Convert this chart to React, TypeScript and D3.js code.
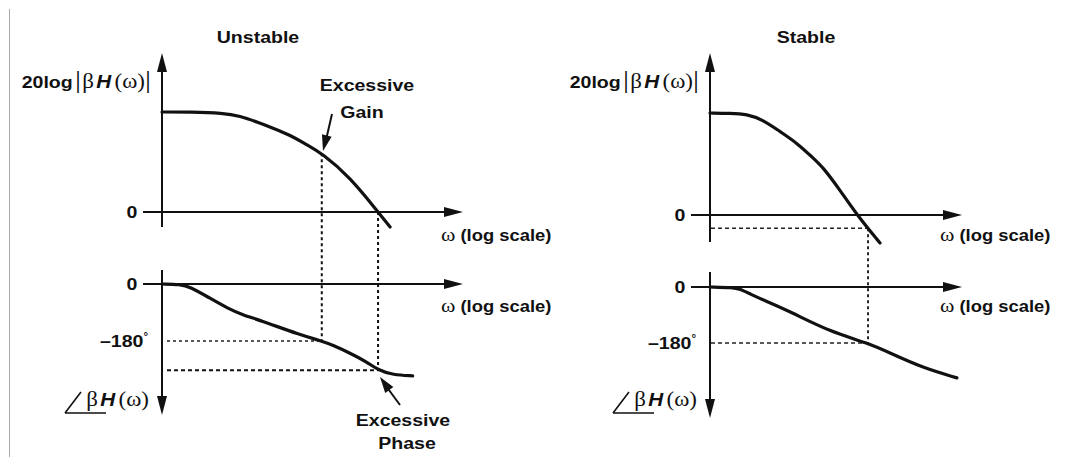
import * as d3 from "d3";

// ---- data (omega in rad/s, gain in dB, phase in degrees) ----
const unstableGainOmega = [1, 2.4, 6.5, 11, 18.5, 30, 51, 86, 135, 320, 760, 1100];
const unstableGainDb = [40, 40, 39.6, 38.4, 36, 33.6, 30.8, 26.8, 23.5, 14, 0, -6];
const unstablePhaseOmega = [1, 1.74, 2.36, 4.37, 7.4, 12, 20, 70, 135, 190, 320, 540, 760, 1200, 2200];
const unstablePhaseDeg = [0, -1, -8.5, -45, -76, -98, -114, -161, -180, -193, -218, -246, -272, -287, -290];

const stableGainOmega = [1, 1.85, 3.1, 5.1, 8.6, 14.5, 23.6, 32, 54, 91, 185];
const stableGainDb = [40, 39.9, 39.6, 37.3, 32.7, 28.2, 22.4, 18.8, 9.8, 0, -11];
const stablePhaseOmega = [1, 2.03, 2.5, 3.4, 5.75, 11.7, 40, 128, 250, 690, 1960];
const stablePhaseDeg = [0, -1.6, -6.4, -22, -47, -79, -144, -180, -212, -260, -292];

// crossover markers
const unstablePhaseCross = 135; // phase = -180
const unstableGainCross = 760; // gain = 0 dB
const unstablePhaseAtGainCross = -272;
const stablePhaseCross = 128;
const stableGainAtPhaseCross = -5.2;

const FONT = "'Liberation Sans', Arial, Helvetica, sans-serif";
const SERIF = "'Liberation Serif', 'Times New Roman', serif";
const SX = 1.15;

function head(x1: number, y1: number, x2: number, y2: number, len = 18, half = 5) {
  const a = Math.atan2(y2 - y1, x2 - x1);
  const bx = x2 - len * Math.cos(a);
  const by = y2 - len * Math.sin(a);
  const px = -Math.sin(a) * half;
  const py = Math.cos(a) * half;
  return `${x2},${y2} ${bx + px},${by + py} ${bx - px},${by - py}`;
}

const Txt = ({ x, y, anchor = "middle", size = 17, children }: any) => (
  <g transform={`translate(${x},${y}) scale(${SX},1)`}>
    <text
      y={size * 0.36}
      textAnchor={anchor}
      fontFamily={FONT}
      fontWeight="bold"
      fontSize={size}
      fill="#111"
    >
      {children}
    </text>
  </g>
);

const MagLabel = ({ x, y }: any) => (
  <Txt x={x} y={y} anchor="end" size={17}>
    20log
    <tspan fontFamily={SERIF} fontWeight="normal" fontSize={26} dx={2}>|</tspan>
    <tspan fontFamily={SERIF} fontWeight="normal" fontSize={20} dx={1}>β</tspan>
    <tspan fontStyle="italic" fontSize={18} dx={2}>H</tspan>
    <tspan fontFamily={SERIF} fontWeight="normal" fontSize={20} dx={3}>(ω)</tspan>
    <tspan fontFamily={SERIF} fontWeight="normal" fontSize={26}>|</tspan>
  </Txt>
);

const OmegaLabel = ({ x, y }: any) => (
  <Txt x={x} y={y} anchor="start" size={16}>
    <tspan fontFamily={SERIF} fontWeight="normal" fontSize={19}>ω</tspan> (log scale)
  </Txt>
);

const PhaseLabel = ({ ox, y }: any) => (
  <g>
    <path
      d={`M${ox - 97},${y + 13} L${ox - 81},${y - 8} M${ox - 97},${y + 13} L${ox - 56},${y + 13}`}
      stroke="#111"
      strokeWidth={1.6}
      fill="none"
    />
    <Txt x={ox - 13} y={y} anchor="end" size={17}>
      <tspan fontFamily={SERIF} fontWeight="normal" fontSize={20}>β</tspan>
      <tspan fontStyle="italic" fontSize={18} dx={2}>H</tspan>
      <tspan fontFamily={SERIF} fontWeight="normal" fontSize={20} dx={3}>(ω)</tspan>
    </Txt>
  </g>
);

const Deg180 = ({ x, y }: any) => (
  <Txt x={x} y={y} anchor="end" size={17}>
    –180<tspan fontSize={10} dy={-7}>°</tspan>
  </Txt>
);

interface PanelProps {
  title: string;
  ox: number;
  axisEnd: number;
  gainZeroY: number;
  gainTopY: number;
  gainAxisBottom: number;
  phaseZeroY: number;
  phase180Y: number;
  phaseAxisTop: number;
  phaseAxisBottom: number;
  gainOmega: number[];
  gainDb: number[];
  phaseOmega: number[];
  phaseDeg: number[];
  children?: (s: any) => any;
}

const Panel = (p: PanelProps) => {
  const x = d3.scaleLog().domain([1, 1e4]).range([p.ox, p.ox + 300]);
  const yG = d3.scaleLinear().domain([0, 40]).range([p.gainZeroY, p.gainTopY]);
  const yP = d3.scaleLinear().domain([0, -180]).range([p.phaseZeroY, p.phase180Y]);
  // smooth b-spline through the sampled points
  const line = d3.line<[number, number]>().curve(d3.curveBasis);
  const gainPath = line(p.gainOmega.map((w, i) => [x(w), yG(p.gainDb[i])]));
  const phasePath = line(p.phaseOmega.map((w, i) => [x(w), yP(p.phaseDeg[i])]));
  const titleX = p.ox + 96;

  return (
    <g>
      <Txt x={titleX} y={37}>{p.title}</Txt>
      {/* magnitude axes */}
      <line x1={p.ox} y1={68} x2={p.ox} y2={p.gainAxisBottom} stroke="#111" strokeWidth={2} />
      <polygon points={head(p.ox, 100, p.ox, 53, 19, 5)} fill="#111" />
      <line x1={p.ox - 19} y1={p.gainZeroY} x2={p.axisEnd - 12} y2={p.gainZeroY} stroke="#111" strokeWidth={2} />
      <polygon points={head(p.ox, p.gainZeroY, p.axisEnd, p.gainZeroY, 19, 5)} fill="#111" />
      <Txt x={p.ox - 30} y={p.gainZeroY}>0</Txt>
      <MagLabel x={p.ox - 11} y={82} />
      <OmegaLabel x={p.axisEnd - 22} y={235} />
      {/* phase axes */}
      <line x1={p.ox} y1={p.phaseAxisTop} x2={p.ox} y2={p.phaseAxisBottom - 12} stroke="#111" strokeWidth={2} />
      <polygon points={head(p.ox, 300, p.ox, p.phaseAxisBottom, 19, 5)} fill="#111" />
      <line x1={p.ox - 19} y1={p.phaseZeroY} x2={p.axisEnd - 12} y2={p.phaseZeroY} stroke="#111" strokeWidth={2} />
      <polygon points={head(p.ox, p.phaseZeroY, p.axisEnd, p.phaseZeroY, 19, 5)} fill="#111" />
      <Txt x={p.ox - 30} y={p.phaseZeroY}>0</Txt>
      <Deg180 x={p.ox - 14} y={p.phase180Y} />
      <OmegaLabel x={p.axisEnd - 22} y={306} />
      <PhaseLabel ox={p.ox} y={400} />
      {p.children && p.children({ x, yG, yP })}
      {/* curves */}
      <path d={gainPath ?? ""} fill="none" stroke="#111" strokeWidth={3.2} strokeLinecap="round" strokeLinejoin="round" />
      <path d={phasePath ?? ""} fill="none" stroke="#111" strokeWidth={3.2} strokeLinecap="round" strokeLinejoin="round" />
    </g>
  );
};

export default function App() {
  const gainAt = (ws: number[], vs: number[], w: number) =>
    d3.scaleLog().domain(ws).range(vs)(w);

  return (
    <svg
      width={1070}
      height={457}
      style={{ position: "absolute", left: 0, top: 0, background: "#fff" }}
    >
      <line x1={9.5} y1={9} x2={9.5} y2={457} stroke="#aaa" strokeWidth={1} />
      <Panel
        title="Unstable"
        ox={162}
        axisEnd={463}
        gainZeroY={212}
        gainTopY={112}
        gainAxisBottom={227}
        phaseZeroY={284}
        phase180Y={341}
        phaseAxisTop={270}
        phaseAxisBottom={415}
        gainOmega={unstableGainOmega}
        gainDb={unstableGainDb}
        phaseOmega={unstablePhaseOmega}
        phaseDeg={unstablePhaseDeg}
      >
        {({ x, yG, yP }: any) => {
          const xPc = x(unstablePhaseCross);
          const xGc = x(unstableGainCross);
          return (
            <g>
              <line x1={xPc} y1={yG(gainAt(unstableGainOmega, unstableGainDb, unstablePhaseCross))} x2={xPc} y2={yP(-180)} stroke="#111" strokeWidth={2} strokeDasharray="3,3" />
              <line x1={xGc} y1={yG(0)} x2={xGc} y2={yP(unstablePhaseAtGainCross)} stroke="#111" strokeWidth={2} strokeDasharray="3,3" />
              <line x1={167} y1={yP(-180)} x2={xPc} y2={yP(-180)} stroke="#222" strokeWidth={1.3} strokeDasharray="3,3" />
              <line x1={167} y1={yP(unstablePhaseAtGainCross)} x2={xGc} y2={yP(unstablePhaseAtGainCross)} stroke="#111" strokeWidth={2} strokeDasharray="4,3" />
              {/* annotations */}
              <Txt x={367} y={85}>Excessive</Txt>
              <Txt x={362} y={112}>Gain</Txt>
              <line x1={332} y1={114} x2={326} y2={140} stroke="#111" strokeWidth={2} />
              <polygon points={head(332, 114, 323, 151, 16, 5)} fill="#111" />
              <Txt x={403} y={420}>Excessive</Txt>
              <Txt x={407} y={443}>Phase</Txt>
              <line x1={400} y1={405} x2={386} y2={386} stroke="#111" strokeWidth={2} />
              <polygon points={head(400, 405, 380, 377, 16, 5)} fill="#111" />
            </g>
          );
        }}
      </Panel>
      <Panel
        title="Stable"
        ox={710}
        axisEnd={962}
        gainZeroY={215}
        gainTopY={113}
        gainAxisBottom={242}
        phaseZeroY={287}
        phase180Y={343}
        phaseAxisTop={272}
        phaseAxisBottom={418}
        gainOmega={stableGainOmega}
        gainDb={stableGainDb}
        phaseOmega={stablePhaseOmega}
        phaseDeg={stablePhaseDeg}
      >
        {({ x, yG, yP }: any) => {
          const xPc = x(stablePhaseCross);
          return (
            <g>
              <line x1={711} y1={yG(stableGainAtPhaseCross)} x2={xPc} y2={yG(stableGainAtPhaseCross)} stroke="#222" strokeWidth={1.4} strokeDasharray="4,3" />
              <line x1={xPc} y1={yG(stableGainAtPhaseCross)} x2={xPc} y2={yP(-180)} stroke="#111" strokeWidth={1.8} strokeDasharray="3,3" />
              <line x1={711} y1={yP(-180)} x2={xPc} y2={yP(-180)} stroke="#222" strokeWidth={1.4} strokeDasharray="4,3" />
            </g>
          );
        }}
      </Panel>
    </svg>
  );
}
